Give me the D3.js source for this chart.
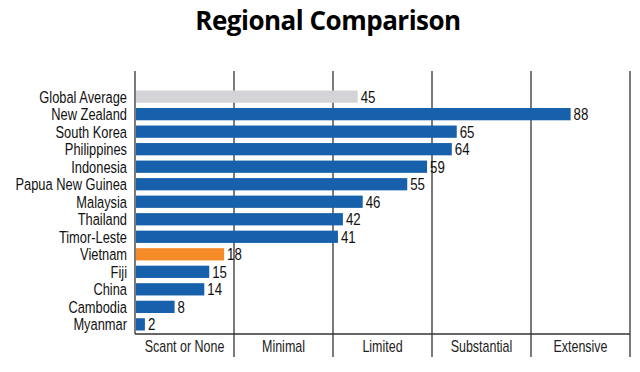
<!DOCTYPE html>
<html>
<head>
<meta charset="utf-8">
<script src="https://cdn.jsdelivr.net/npm/d3@7"></script>
<style>
  body { margin: 0; background: #fff; }
  text { font-family: "Liberation Sans", Arial, sans-serif; }
</style>
</head>
<body>
<script>
// data
var countries = ["Global Average", "New Zealand", "South Korea", "Philippines", "Indonesia",
                 "Papua New Guinea", "Malaysia", "Thailand", "Timor-Leste", "Vietnam",
                 "Fiji", "China", "Cambodia", "Myanmar"];
var scores = [45, 88, 65, 64, 59, 55, 46, 42, 41, 18, 15, 14, 8, 2];
var levels = ["Scant or None", "Minimal", "Limited", "Substantial", "Extensive"];
var levelBreaks = [0, 20, 40, 60, 80, 100];

var width = 640, height = 372;
var squeeze = 0.78;   // fake a condensed face

var svg = d3.select("body").append("svg")
    .attr("width", width)
    .attr("height", height);

var x = d3.scaleLinear().domain([0, 100]).range([135, 630]);
var y = d3.scaleBand().domain(countries).range([87, 334]).paddingInner(0.3).paddingOuter(0.2);

function barColor(name) {
  if (name == "Global Average") return "#d4d4d8";
  if (name == "Vietnam") return "#f68b2a";
  return "#1660ac";
}

function at(px, py) {
  return "translate(" + px + "," + py + ") scale(" + squeeze + ",1)";
}

// title
svg.append("text")
    .attr("x", 328)
    .attr("y", 30)
    .attr("text-anchor", "middle")
    .style("font-family", "'Open Sans', sans-serif")
    .style("font-weight", "bold")
    .style("font-size", "26px")
    .style("letter-spacing", "-0.5px")
    .text("Regional Comparison");

// zone lines
svg.selectAll(".zone")
    .data(levelBreaks)
    .enter().append("line")
    .attr("x1", function(d) { return x(d); })
    .attr("x2", function(d) { return x(d); })
    .attr("y1", 71)
    .attr("y2", function(d) { return d == 0 ? 334 : 357; })
    .style("stroke", "#333")
    .style("stroke-width", 1.3);

// bars
svg.selectAll(".bar")
    .data(countries)
    .enter().append("rect")
    .attr("x", x(0) + 1)
    .attr("y", function(d) { return y(d); })
    .attr("width", function(d, i) { return x(scores[i]) - x(0) - 1; })
    .attr("height", y.bandwidth())
    .style("fill", function(d) { return barColor(d); });

// value labels
svg.selectAll(".val")
    .data(countries)
    .enter().append("text")
    .attr("transform", function(d, i) { return at(x(scores[i]) + 3, y(d) + y.bandwidth() / 2); })
    .attr("dy", "0.36em")
    .style("font-size", "17px")
    .style("fill", "#111")
    .text(function(d, i) { return scores[i]; });

// country labels
svg.selectAll(".name")
    .data(countries)
    .enter().append("text")
    .attr("transform", function(d) { return at(127, y(d) + y.bandwidth() / 2); })
    .attr("dy", "0.36em")
    .attr("text-anchor", "end")
    .style("font-size", "16.5px")
    .style("fill", "#111")
    .text(function(d) { return d; });

// bottom axis line
svg.append("line")
    .attr("x1", x(0))
    .attr("x2", x(100))
    .attr("y1", 334)
    .attr("y2", 334)
    .style("stroke", "#333")
    .style("stroke-width", 1.3);

// level labels
svg.selectAll(".lvl")
    .data(levels)
    .enter().append("text")
    .attr("transform", function(d, i) { return at((x(levelBreaks[i]) + x(levelBreaks[i + 1])) / 2, 352); })
    .attr("text-anchor", "middle")
    .style("font-size", "16px")
    .style("fill", "#222")
    .text(function(d) { return d; });
</script>
</body>
</html>
